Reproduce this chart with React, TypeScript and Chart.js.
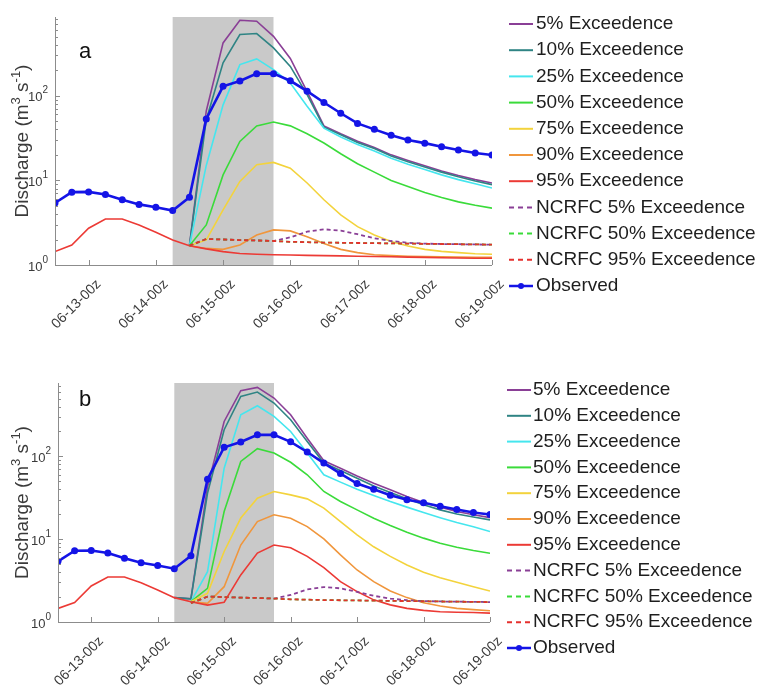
import React, { useEffect, useRef } from 'react';
import { Chart, registerables } from 'chart.js';

Chart.register(...registerables);

// ---- time axis (hours relative to 06-13 00z), 6-hourly ----
const HOURS = [-12, -6, 0, 6, 12, 18, 24, 30, 36, 42, 48, 54, 60, 66, 72, 78, 84, 90, 96, 102, 108, 114, 120, 126, 132, 138, 144];
const TICK_HOURS = [0, 24, 48, 72, 96, 120, 144];
const TICK_LABELS = ['06-13-00z', '06-14-00z', '06-15-00z', '06-16-00z', '06-17-00z', '06-18-00z', '06-19-00z'];
const Y_MAJOR = [1, 10, 100];
const Y_EXP = ['0', '1', '2'];
const SHADE_HOURS = [30, 66];

// ---- observed discharge ----
const OBSERVED = [5.4, 7.25, 7.3, 6.8, 5.9, 5.2, 4.8, 4.4, 6.3, 53, 129, 149, 182, 182, 150, 113, 83, 62, 47, 40, 34, 30, 27.5, 25, 22.8, 21, 19.9];

// ---- NCRFC forecasts (start at index 8) ----
const NCRFC_5 = [1.69, 2.03, 2.0, 1.97, 1.95, 1.92, 2.12, 2.48, 2.64, 2.55, 2.31, 2.07, 1.92, 1.83, 1.79, 1.77, 1.76, 1.75, 1.74];
const NCRFC_50 = [1.69, 2.03, 2.0, 1.97, 1.95, 1.92, 1.88, 1.86, 1.84, 1.83, 1.82, 1.81, 1.8, 1.79, 1.78, 1.77, 1.76, 1.75, 1.74];
const NCRFC_95 = [1.69, 2.03, 2.0, 1.97, 1.95, 1.92, 1.88, 1.86, 1.84, 1.83, 1.82, 1.81, 1.8, 1.79, 1.78, 1.77, 1.76, 1.75, 1.74];

// ---- panel a ensemble (start at index 8; 95% spans all) ----
const A_P5 = [1.69, 66, 420, 778, 758, 503, 275, 112, 44, 35.5, 29, 24.5, 20, 17.2, 14.9, 12.9, 11.4, 10.2, 9.3];
const A_P10 = [1.69, 52, 244, 527, 542, 367, 222, 103, 42.5, 34.5, 28, 23.7, 19.4, 16.6, 14.4, 12.5, 11, 9.8, 8.9];
const A_P25 = [1.69, 15, 78, 233, 272, 203, 141, 75, 41.4, 32.5, 26.5, 22.2, 18.2, 15.5, 13.4, 11.6, 10.2, 9.1, 8.1];
const A_P50 = [1.69, 2.97, 11.6, 28.8, 44, 48.8, 44, 35.5, 27.6, 20.6, 15.7, 12.5, 9.96, 8.45, 7.2, 6.27, 5.57, 5.08, 4.69];
const A_P75 = [1.69, 1.98, 4.48, 9.7, 15.3, 16.3, 13.9, 9.3, 5.9, 3.9, 2.84, 2.26, 1.89, 1.68, 1.53, 1.45, 1.4, 1.36, 1.34];
const A_P90 = [1.69, 1.57, 1.53, 1.72, 2.26, 2.6, 2.53, 2.16, 1.8, 1.53, 1.4, 1.32, 1.29, 1.27, 1.26, 1.25, 1.24, 1.23, 1.23];
const A_P95 = [1.44, 1.72, 2.72, 3.5, 3.5, 2.97, 2.44, 1.98, 1.69, 1.55, 1.44, 1.37, 1.34, 1.32, 1.31, 1.3, 1.29, 1.28, 1.27, 1.26, 1.25, 1.24, 1.23, 1.22, 1.21, 1.2, 1.2];

// ---- panel b ensemble (5%/10% start at index 7, others at 8; 95% spans all) ----
const B_P5 = [1.97, 1.9, 43, 264, 621, 681, 507, 318, 166, 88.5, 72, 58, 47.5, 39.5, 32.7, 27.7, 24.4, 21.6, 19.7, 18.2];
const B_P10 = [1.97, 1.9, 36, 210, 530, 599, 441, 277, 151, 83, 67.6, 54.6, 44, 36.6, 30.7, 26, 22.6, 20.2, 18.5, 17.1];
const B_P25 = [1.76, 4.06, 72, 318, 409, 304, 200, 110, 60, 48.9, 40, 33.7, 28.5, 24.4, 21, 18.2, 15.9, 14.1, 12.4];
const B_P50 = [1.76, 2.55, 21.6, 87, 124, 110, 85, 60, 37.7, 28.5, 22.6, 17.9, 14.6, 12.1, 10.3, 8.95, 8.0, 7.3, 6.77];
const B_P75 = [1.76, 2.22, 7.1, 18, 31.3, 37.7, 34.3, 30.7, 23.7, 16.3, 11.3, 8.1, 6.2, 4.89, 3.99, 3.43, 3.02, 2.67, 2.37];
const B_P90 = [1.76, 1.68, 2.67, 8.5, 16.3, 19.7, 17.9, 14.2, 10.1, 6.46, 4.25, 3.07, 2.37, 1.97, 1.71, 1.56, 1.46, 1.41, 1.37];
const B_P95 = [1.46, 1.72, 2.72, 3.5, 3.5, 2.97, 2.44, 1.97, 1.76, 1.6, 1.73, 3.7, 6.8, 8.5, 7.9, 6.2, 4.54, 3.07, 2.33, 1.85, 1.61, 1.46, 1.38, 1.33, 1.31, 1.3, 1.28];

const lead = (n: number, v: number[]) => [...Array(n).fill(null), ...v];

const SERIES = [
  { key: 'p5', label: '5% Exceedence', color: '#8A3F96', dashed: false },
  { key: 'p10', label: '10% Exceedence', color: '#2F8484', dashed: false },
  { key: 'p25', label: '25% Exceedence', color: '#45E6EE', dashed: false },
  { key: 'p50', label: '50% Exceedence', color: '#3ADB3A', dashed: false },
  { key: 'p75', label: '75% Exceedence', color: '#F3D33C', dashed: false },
  { key: 'p90', label: '90% Exceedence', color: '#F0963C', dashed: false },
  { key: 'p95', label: '95% Exceedence', color: '#EC3A35', dashed: false },
  { key: 'n5', label: 'NCRFC 5% Exceedence', color: '#8A3F96', dashed: true },
  { key: 'n50', label: 'NCRFC 50% Exceedence', color: '#3ADB3A', dashed: true },
  { key: 'n95', label: 'NCRFC 95% Exceedence', color: '#E5302E', dashed: true },
  { key: 'obs', label: 'Observed', color: '#1414E6', dashed: false },
];

const PANEL_A = {
  letter: 'a',
  canvasH: 340,
  area: { left: 55, right: 492, top: 17, bottom: 265 },
  yMax: 850,
  letterPos: [85, 52],
  titleX: 23,
  legend: { x: 509, len: 24, textX: 536, y0: 24, dy: 26.2 },
  data: {
    p5: lead(8, A_P5), p10: lead(8, A_P10), p25: lead(8, A_P25), p50: lead(8, A_P50),
    p75: lead(8, A_P75), p90: lead(8, A_P90), p95: A_P95,
    n5: lead(8, NCRFC_5), n50: lead(8, NCRFC_50), n95: lead(8, NCRFC_95), obs: OBSERVED,
  } as Record<string, (number | null)[]>,
};

const PANEL_B = {
  letter: 'b',
  canvasH: 349,
  area: { left: 58, right: 490, top: 43, bottom: 282 },
  yMax: 770,
  letterPos: [85, 60],
  titleX: 23,
  legend: { x: 507, len: 24, textX: 533, y0: 50, dy: 25.8 },
  data: {
    p5: lead(7, B_P5), p10: lead(7, B_P10), p25: lead(8, B_P25), p50: lead(8, B_P50),
    p75: lead(8, B_P75), p90: lead(8, B_P90), p95: B_P95,
    n5: lead(8, NCRFC_5), n50: lead(8, NCRFC_50), n95: lead(8, NCRFC_95), obs: OBSERVED,
  } as Record<string, (number | null)[]>,
};

const FONT = '"Liberation Sans", Arial, Helvetica, sans-serif';
const AXIS_COLOR = '#8c8c8c';
const TEXT_COLOR = '#3a3a3a';

type PanelCfg = typeof PANEL_A;

function makePlugin(cfg: PanelCfg) {
  return {
    id: 'panelDecor' + cfg.letter,
    beforeDatasetsDraw(chart: any) {
      const { ctx, chartArea: a, scales } = chart;
      const x0 = scales.x.getPixelForValue(SHADE_HOURS[0]);
      const x1 = scales.x.getPixelForValue(SHADE_HOURS[1]);
      ctx.save();
      ctx.fillStyle = '#c9c9c9';
      ctx.fillRect(x0, a.top, x1 - x0, a.bottom - a.top);
      ctx.restore();
    },
    afterDraw(chart: any) {
      const { ctx, chartArea: a, scales } = chart;
      const xs = scales.x;
      const ys = scales.y;
      ctx.save();
      // axis lines
      ctx.strokeStyle = AXIS_COLOR;
      ctx.lineWidth = 1;
      ctx.setLineDash([]);
      ctx.beginPath();
      ctx.moveTo(a.left + 0.5, a.top);
      ctx.lineTo(a.left + 0.5, a.bottom + 0.5);
      ctx.lineTo(a.right, a.bottom + 0.5);
      ctx.stroke();
      // x ticks (inward)
      ctx.beginPath();
      TICK_HOURS.forEach((h) => {
        const px = Math.round(xs.getPixelForValue(h)) + 0.5;
        ctx.moveTo(px, a.bottom);
        ctx.lineTo(px, a.bottom - 5);
      });
      // y ticks major + minor
      Y_MAJOR.forEach((d) => {
        for (let m = 1; m <= 9; m++) {
          const v = m * d;
          if (v > cfg.yMax) continue;
          const py = Math.round(ys.getPixelForValue(v)) + 0.5;
          ctx.moveTo(a.left, py);
          ctx.lineTo(a.left + (m === 1 ? 5 : 3), py);
        }
      });
      ctx.stroke();

      // x tick labels
      ctx.fillStyle = TEXT_COLOR;
      ctx.font = '14px ' + FONT;
      ctx.textAlign = 'right';
      ctx.textBaseline = 'middle';
      TICK_HOURS.forEach((h, i) => {
        const px = xs.getPixelForValue(h);
        ctx.save();
        ctx.translate(px + 10, a.bottom + 17);
        ctx.rotate(-Math.PI / 4);
        ctx.fillText(TICK_LABELS[i], 0, 0);
        ctx.restore();
      });

      // y tick labels 10^n
      Y_MAJOR.forEach((v, i) => {
        const py = ys.getPixelForValue(v);
        const xEnd = a.left - 7;
        ctx.font = '10px ' + FONT;
        const ws = ctx.measureText(Y_EXP[i]).width;
        ctx.font = '13px ' + FONT;
        const wb = ctx.measureText('10').width;
        ctx.textAlign = 'left';
        ctx.fillText('10', xEnd - ws - wb, py + 2);
        ctx.font = '10px ' + FONT;
        ctx.fillText(Y_EXP[i], xEnd - ws, py - 5);
      });

      // y axis title with superscripts
      const runs = [
        { t: 'Discharge (m', sup: false },
        { t: '3', sup: true },
        { t: ' s', sup: false },
        { t: '-1', sup: true },
        { t: ')', sup: false },
      ];
      const fMain = '19px ' + FONT;
      const fSup = '13px ' + FONT;
      let total = 0;
      const widths = runs.map((r) => {
        ctx.font = r.sup ? fSup : fMain;
        const w = ctx.measureText(r.t).width;
        total += w;
        return w;
      });
      ctx.save();
      ctx.translate(cfg.titleX, (a.top + a.bottom) / 2);
      ctx.rotate(-Math.PI / 2);
      ctx.textAlign = 'left';
      ctx.textBaseline = 'middle';
      let cx = -total / 2;
      runs.forEach((r, i) => {
        ctx.font = r.sup ? fSup : fMain;
        ctx.fillText(r.t, cx, r.sup ? -7 : 0);
        cx += widths[i];
      });
      ctx.restore();

      // panel letter
      ctx.fillStyle = '#111';
      ctx.font = '22px ' + FONT;
      ctx.textAlign = 'center';
      ctx.textBaseline = 'middle';
      ctx.fillText(cfg.letter, cfg.letterPos[0], cfg.letterPos[1]);

      // legend
      const L = cfg.legend;
      ctx.textAlign = 'left';
      ctx.textBaseline = 'middle';
      SERIES.forEach((s, k) => {
        const y = L.y0 + k * L.dy;
        ctx.strokeStyle = s.color;
        ctx.lineWidth = s.key === 'obs' ? 2.5 : 2;
        ctx.setLineDash(s.dashed ? [5, 4] : []);
        ctx.beginPath();
        ctx.moveTo(L.x, y);
        ctx.lineTo(L.x + L.len, y);
        ctx.stroke();
        ctx.setLineDash([]);
        if (s.key === 'obs') {
          ctx.fillStyle = s.color;
          ctx.beginPath();
          ctx.arc(L.x + L.len / 2, y, 3, 0, Math.PI * 2);
          ctx.fill();
        }
        ctx.fillStyle = '#1e1e1e';
        ctx.font = '19px ' + FONT;
        ctx.fillText(s.label, L.textX, y);
      });
      ctx.restore();
    },
  };
}

function Panel({ cfg }: { cfg: PanelCfg }) {
  const ref = useRef<HTMLCanvasElement | null>(null);
  useEffect(() => {
    if (!ref.current) return;
    const order: Record<string, number> = {
      obs: 0, n95: 1, n50: 2, n5: 3, p95: 4, p90: 5, p75: 6, p50: 7, p25: 8, p10: 9, p5: 10,
    };
    const datasets = SERIES.map((s) => ({
      label: s.label,
      data: HOURS.map((h, i) => ({ x: h, y: cfg.data[s.key][i] })),
      borderColor: s.color,
      backgroundColor: s.color,
      borderWidth: s.key === 'obs' ? 2.6 : s.dashed ? 1.8 : 1.6,
      borderDash: s.dashed ? [4, 3] : [],
      pointRadius: s.key === 'obs' ? 3.5 : 0,
      pointBorderWidth: 0,
      pointBackgroundColor: s.color,
      tension: 0,
      fill: false,
      spanGaps: false,
      order: order[s.key],
    }));
    const W = 761;
    const chart = new Chart(ref.current, {
      type: 'line',
      data: { datasets } as any,
      plugins: [makePlugin(cfg) as any],
      options: {
        animation: false,
        responsive: false,
        devicePixelRatio: 1,
        parsing: true,
        layout: {
          padding: { left: 0, top: cfg.area.top, right: W - cfg.area.right, bottom: 0 },
        },
        plugins: { legend: { display: false }, tooltip: { enabled: false }, title: { display: false } },
        scales: {
          x: {
            type: 'linear',
            min: -12,
            max: 144,
            grid: { display: false },
            border: { display: false },
            ticks: { display: false, stepSize: 24 },
            afterFit: (scale: any) => { scale.height = cfg.canvasH - cfg.area.bottom; },
          },
          y: {
            type: 'logarithmic',
            min: 1,
            max: cfg.yMax,
            grid: { display: false },
            border: { display: false },
            ticks: { display: false },
            afterFit: (scale: any) => { scale.width = cfg.area.left; },
          },
        },
      } as any,
    });
    return () => chart.destroy();
  }, [cfg]);
  return <canvas ref={ref} width={761} height={cfg.canvasH} style={{ display: 'block', width: 761, height: cfg.canvasH }} />;
}

export default function App() {
  return (
    <div style={{ position: 'absolute', left: 0, top: 0, width: 761, height: 689, background: '#fff' }}>
      <Panel cfg={PANEL_A} />
      <Panel cfg={PANEL_B} />
    </div>
  );
}
